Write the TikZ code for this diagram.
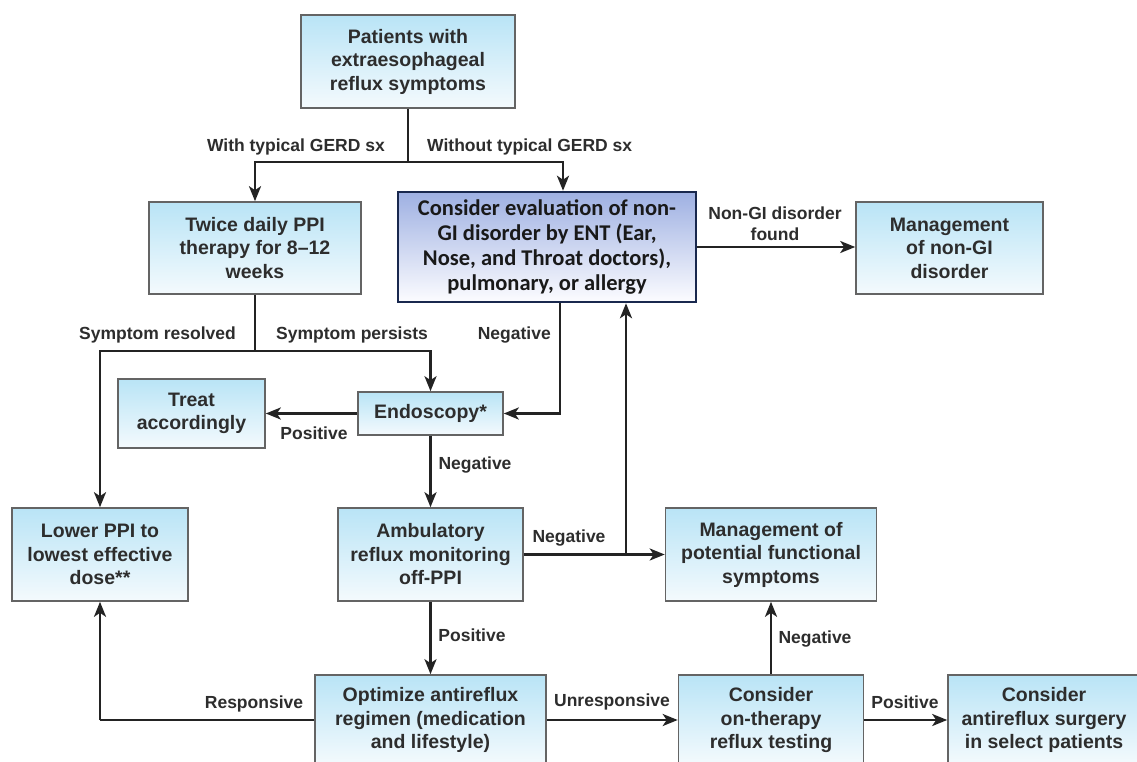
\documentclass[tikz,border=0pt]{standalone}
\usepackage{fontspec}
\setmainfont{Liberation Sans}
\newfontfamily\calfont{Carlito}
\usetikzlibrary{arrows.meta}
\definecolor{boxtop}{RGB}{185,228,246}
\definecolor{boxbot}{RGB}{244,250,253}
\definecolor{boxline}{RGB}{100,100,100}
\definecolor{txt}{RGB}{45,45,45}
\definecolor{ctop}{RGB}{158,176,226}
\definecolor{cbot}{RGB}{252,252,255}
\definecolor{navy}{RGB}{25,40,78}
\definecolor{linec}{RGB}{35,35,35}
\tikzset{
  box/.style={draw=boxline, line width=1.6pt, top color=boxtop, bottom color=boxbot,
    text=txt, align=center, inner sep=0pt,
    font=\fontsize{19.5}{23.5}\selectfont\bfseries},
  cbox/.style={draw=navy, line width=2.5pt, top color=ctop, bottom color=cbot,
    text=black!90, align=center, inner sep=0pt,
    font=\calfont\fontsize{22.5}{25}\selectfont\bfseries},
  lab/.style={text=txt, inner sep=0pt, align=center,
    font=\fontsize{17.5}{21}\selectfont\bfseries},
  ln/.style={draw=linec, line width=2.5pt},
  arr/.style={draw=linec, line width=2.5pt, -{Stealth[length=15pt,width=12pt,inset=4pt]}},
}
\begin{document}
\begin{tikzpicture}[x=1pt,y=-1pt]
\useasboundingbox (0,0) rectangle (1137,762);
\clip (0,0) rectangle (1137,762);
\fill[white] (0,0) rectangle (1137,762);

% boxes
\node[box, minimum width=214pt, minimum height=93pt] (pat) at (408,61.5)
  {Patients with\\extraesophageal\\reflux symptoms};
\node[box, minimum width=212pt, minimum height=92pt] (twice) at (255,248)
  {Twice daily PPI\\therapy for 8–12\\weeks};
\node[cbox, minimum width=298pt, minimum height=110pt] (cons) at (547,247)
  {Consider evaluation of non-\\GI disorder by ENT (Ear,\\Nose, and Throat doctors),\\pulmonary, or allergy};
\node[box, minimum width=187pt, minimum height=92pt] (mgmtA) at (949.5,248)
  {Management\\of non-GI\\disorder};
\node[box, minimum width=147pt, minimum height=69pt] (treat) at (191.5,413.5)
  {Treat\\accordingly};
\node[box, minimum width=145pt, minimum height=43pt] (endo) at (430.5,413.5)
  {Endoscopy*};
\node[box, minimum width=176pt, minimum height=93pt] (lower) at (100,554.5)
  {Lower PPI to\\lowest effective\\dose**};
\node[box, minimum width=185pt, minimum height=93pt] (amb) at (430.5,554.5)
  {Ambulatory\\reflux monitoring\\off-PPI};
\node[box, minimum width=211pt, minimum height=93pt] (mgmtB) at (771,554.5)
  {Management of\\potential functional\\symptoms};
\node[box, minimum width=231pt, minimum height=90pt] (opt) at (430.5,720)
  {Optimize antireflux\\regimen (medication\\and lifestyle)};
\node[box, minimum width=185pt, minimum height=90pt] (onth) at (771,720)
  {Consider\\on-therapy\\reflux testing};
\node[box, minimum width=192pt, minimum height=90pt] (surg) at (1044,720)
  {Consider\\antireflux surgery\\in select patients};

% junctions
\coordinate (j1) at (pat.south |- 0,162);
\coordinate (j2) at (twice.south |- 0,351);
\coordinate (j3) at (626,554.5);
\coordinate (j4) at (lower.south |- opt.west);

% connectors
\draw[ln] (pat.south) -- (j1);
\draw[arr] (j1) -| (twice.north);
\draw[arr] (j1) -| ([xshift=16pt]cons.north);
\draw[arr] (cons.east) -- (cons.east -| mgmtA.west);

\draw[ln] (twice.south) -- (j2);
\draw[arr] (j2) -| (lower.north);
\draw[arr] (j2) -| (endo.north);

\draw[arr] ([xshift=13pt]cons.south) |- (endo.east);
\draw[arr] (endo.west) -- (treat.east);
\draw[arr] (endo.south) -- (amb.north);

\draw[arr] (amb.east) -- (mgmtB.west);
\draw[arr] (j3) -- (j3 |- cons.south);
\draw[arr] (amb.south) -- (opt.north);

\draw[arr] (opt.east) -- (onth.west);
\draw[arr] (onth.east) -- (surg.west);
\draw[arr] (onth.north) -- (mgmtB.south);
\draw[ln] (opt.west) -- (j4);
\draw[arr] (j4) -- (lower.south);

% labels
\node[lab, anchor=east] (l1) at (385,147) {With typical GERD sx};
\node[lab, anchor=west] (l2) at (427,147) {Without typical GERD sx};
\node[lab] (l3) at (775,224) {Non-GI disorder\\found};
\node[lab, anchor=east] (l4) at (236,335) {Symptom resolved};
\node[lab, anchor=west] (l5) at (276,335) {Symptom persists};
\node[lab, anchor=east] (l6) at (551,335) {Negative};
\node[lab] (l7) at (314,433) {Positive};
\node[lab] (l8) at (475,465) {Negative};
\node[lab] (l9) at (569,538) {Negative};
\node[lab] (l10) at (472,635) {Positive};
\node[lab] (l11) at (815,639) {Negative};
\node[lab] (l12) at (254,704) {Responsive};
\node[lab] (l13) at (612,702) {Unresponsive};
\node[lab] (l14) at (905,702) {Positive};
\end{tikzpicture}
\end{document}
